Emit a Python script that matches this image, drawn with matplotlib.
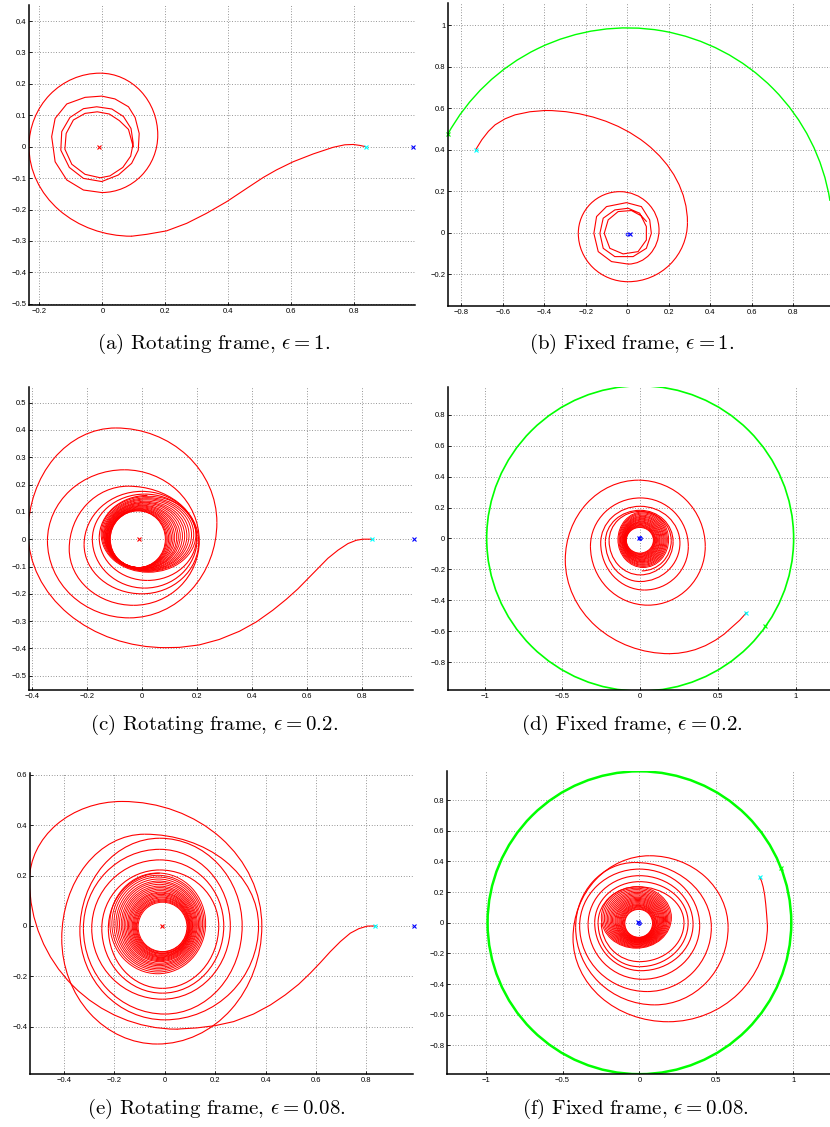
import matplotlib
matplotlib.use("Agg")
import matplotlib.pyplot as plt
from matplotlib.patches import Ellipse, Arc, Circle

plt.rcParams['mathtext.fontset'] = 'cm'

# ---------------- data ----------------
EARTH_X = -0.012
MOON_X = 0.988
L1_X = 0.836
MOON_R = 0.988

# Trajectories: a "tail" polyline, then the spiral turns
# given by their successive extreme points (B=bottom, L=left, T=top, R=right),
# then (optionally) a polygonal inner part and dense inner turns (cx, cy, rx, ry).

# (a) rotating frame, eps = 1
a_tail = [(0.836, 0.0), (0.818, 0.004), (0.797, 0.007), (0.770, 0.006), (0.733, -0.002),
          (0.670, -0.023), (0.606, -0.048), (0.553, -0.074), (0.511, -0.098), (0.458, -0.133),
          (0.395, -0.175), (0.331, -0.212), (0.268, -0.244), (0.204, -0.268), (0.141, -0.279),
          (0.093, -0.285)]
a_turns = [('B', 0.093, -0.285), ('L', -0.233, 0.0), ('T', -0.007, 0.234), ('R', 0.176, 0.037),
           ('B', -0.002, -0.146)]
a_inner = [(-0.002, -0.146), (-0.060, -0.138), (-0.113, -0.106), (-0.150, -0.048),
           (-0.161, 0.032), (-0.150, 0.090), (-0.113, 0.136), (-0.055, 0.157), (-0.002, 0.161),
           (0.040, 0.152), (0.083, 0.127), (0.104, 0.093), (0.117, 0.042), (0.114, -0.011),
           (0.093, -0.053), (0.051, -0.090), (-0.002, -0.111), (-0.060, -0.101), (-0.105, -0.066),
           (-0.132, -0.011), (-0.129, 0.048), (-0.103, 0.093), (-0.060, 0.121), (-0.018, 0.127),
           (0.030, 0.120), (0.067, 0.096), (0.091, 0.058), (0.098, 0.011), (0.090, -0.030),
           (0.065, -0.066), (0.024, -0.093), (-0.007, -0.099), (-0.055, -0.088), (-0.097, -0.056),
           (-0.119, -0.008), (-0.115, 0.042), (-0.092, 0.085), (-0.055, 0.106), (-0.016, 0.111),
           (0.022, 0.104), (0.054, 0.083), (0.083, 0.055), (0.098, 0.0)]

# (b) fixed frame, eps = 1
b_tail = [(-0.731, 0.402), (-0.702, 0.449), (-0.670, 0.490), (-0.638, 0.521), (-0.590, 0.550),
          (-0.542, 0.569), (-0.470, 0.584), (-0.398, 0.590)]
b_turns = [('T', -0.398, 0.590), ('R', 0.289, 0.050), ('B', 0.003, -0.235), ('L', -0.237, -0.002),
           ('T', -0.037, 0.199), ('R', 0.152, 0.014), ('B', 0.003, -0.150)]
b_inner = [(0.003, -0.150), (-0.077, -0.138), (-0.141, -0.090), (-0.162, -0.002), (-0.149, 0.079),
           (-0.101, 0.127), (-0.005, 0.146), (0.067, 0.127), (0.107, 0.063), (0.115, -0.002),
           (0.091, -0.074), (0.027, -0.114), (-0.061, -0.114), (-0.117, -0.074), (-0.133, -0.002),
           (-0.117, 0.071), (-0.061, 0.111), (0.003, 0.119), (0.059, 0.095), (0.091, 0.031),
           (0.091, -0.034), (0.051, -0.090), (-0.021, -0.101), (-0.085, -0.074), (-0.112, -0.002),
           (-0.093, 0.063), (-0.045, 0.103), (0.019, 0.108), (0.067, 0.082), (0.091, 0.056)]
b_moon_arc = (9.0, 151.5)          # degrees, start/end of the Moon's arc
b_start = (-0.731, 0.402)
b_moon_start = (-0.863, 0.476)

# (c) rotating frame, eps = 0.2
c_tail = [(0.833, 0.0), (0.802, 0.0), (0.778, -0.004), (0.748, -0.016), (0.712, -0.040),
          (0.675, -0.070), (0.639, -0.107), (0.602, -0.145), (0.566, -0.182), (0.524, -0.220),
          (0.475, -0.260), (0.415, -0.303), (0.354, -0.337), (0.281, -0.367), (0.208, -0.387),
          (0.136, -0.396), (0.087, -0.397)]
c_turns = [('B', 0.087, -0.397), ('L', -0.413, 0.024), ('T', -0.095, 0.407), ('R', 0.272, 0.061),
           ('B', -0.046, -0.288), ('L', -0.343, -0.006), ('T', -0.064, 0.254), ('R', 0.208, -0.006),
           ('B', -0.030, -0.242), ('L', -0.264, -0.036), ('T', -0.050, 0.194), ('R', 0.206, -0.010),
           ('B', 0.000, -0.200), ('L', -0.210, -0.020), ('T', 0.000, 0.175), ('R', 0.200, 0.000),
           ('B', 0.010, -0.179), ('L', -0.180, 0.000), ('T', 0.010, 0.165), ('R', 0.198, 0.005),
           ('B', 0.020, -0.151), ('L', -0.155, 0.005), ('T', 0.020, 0.160)]
c_dense = [(0.024, 0.018, 0.172, 0.139), (0.022, 0.017, 0.166, 0.135),
           (0.020, 0.016, 0.160, 0.132), (0.017, 0.015, 0.154, 0.129), (0.014, 0.013, 0.149, 0.126),
           (0.011, 0.012, 0.144, 0.123), (0.008, 0.011, 0.139, 0.121), (0.005, 0.010, 0.134, 0.118),
           (0.002, 0.008, 0.130, 0.116), (0.000, 0.007, 0.126, 0.114), (-0.003, 0.006, 0.122, 0.112),
           (-0.005, 0.005, 0.118, 0.110), (-0.007, 0.004, 0.114, 0.108), (-0.009, 0.003, 0.111, 0.107),
           (-0.011, 0.002, 0.108, 0.106), (-0.013, 0.001, 0.105, 0.105), (-0.014, 0.000, 0.102, 0.104),
           (-0.015, 0.000, 0.100, 0.104)]

# (d) fixed frame, eps = 0.2
d_tail = [(0.683, -0.482), (0.640, -0.530), (0.592, -0.573), (0.540, -0.620), (0.484, -0.659),
          (0.420, -0.694), (0.354, -0.720), (0.300, -0.734), (0.245, -0.743), (0.191, -0.746)]
d_turns = [('B', 0.191, -0.746), ('L', -0.482, -0.139), ('T', -0.011, 0.377), ('R', 0.419, -0.052),
           ('B', 0.050, -0.432), ('L', -0.320, -0.050), ('T', 0.002, 0.262), ('R', 0.310, -0.052),
           ('B', 0.028, -0.334), ('L', -0.254, -0.030), ('T', 0.000, 0.208), ('R', 0.256, -0.030),
           ('B', 0.000, -0.279), ('L', -0.224, -0.020), ('T', 0.000, 0.182), ('R', 0.212, -0.020),
           ('B', 0.000, -0.236), ('L', -0.200, -0.015), ('T', 0.000, 0.175), ('R', 0.200, -0.015),
           ('B', 0.010, -0.210)]
d_dense = [(0.020, -0.008, 0.163, 0.180), (0.019, -0.008, 0.156, 0.173), (0.018, -0.008, 0.150, 0.166),
           (0.017, -0.009, 0.144, 0.159), (0.016, -0.009, 0.138, 0.152), (0.015, -0.009, 0.133, 0.146),
           (0.013, -0.010, 0.128, 0.140), (0.012, -0.010, 0.123, 0.134), (0.010, -0.010, 0.118, 0.128),
           (0.009, -0.011, 0.114, 0.122), (0.007, -0.011, 0.110, 0.117), (0.005, -0.011, 0.106, 0.112),
           (0.004, -0.011, 0.102, 0.107), (0.002, -0.012, 0.098, 0.102), (0.001, -0.012, 0.095, 0.097),
           (0.000, -0.012, 0.092, 0.092), (-0.001, -0.012, 0.089, 0.087), (-0.002, -0.012, 0.087, 0.083)]
d_start = (0.683, -0.482)
d_moon_start = (0.805, -0.566)

# (e) rotating frame, eps = 0.08
e_tail = [(0.836, 0.0), (0.803, -0.001), (0.770, -0.011), (0.736, -0.029), (0.697, -0.062),
          (0.657, -0.102), (0.617, -0.146), (0.577, -0.188), (0.531, -0.232), (0.478, -0.274),
          (0.419, -0.314), (0.352, -0.350), (0.273, -0.380), (0.200, -0.396), (0.127, -0.405),
          (0.061, -0.409), (0.050, -0.410)]
e_turns = [('B', 0.050, -0.410), ('L', -0.537, 0.180), ('T', -0.170, 0.494), ('R', 0.385, 0.000),
           ('B', -0.030, -0.469), ('L', -0.409, -0.050), ('T', -0.080, 0.364), ('R', 0.372, 0.000),
           ('B', 0.000, -0.373), ('L', -0.337, -0.020), ('T', -0.020, 0.348), ('R', 0.307, 0.000),
           ('B', 0.000, -0.350), ('L', -0.323, -0.010), ('T', -0.020, 0.304), ('R', 0.260, 0.000),
           ('B', -0.010, -0.291), ('L', -0.290, -0.010), ('T', -0.020, 0.262), ('R', 0.234, 0.000),
           ('B', -0.010, -0.267), ('L', -0.250, -0.010), ('T', -0.020, 0.222), ('R', 0.214, 0.000),
           ('B', -0.010, -0.248), ('L', -0.224, -0.010), ('T', -0.020, 0.209)]
e_dense = [(-0.028, 0.010, 0.190, 0.200), (-0.027, 0.009, 0.183, 0.192), (-0.026, 0.009, 0.176, 0.185),
           (-0.025, 0.008, 0.169, 0.178), (-0.024, 0.007, 0.163, 0.171), (-0.023, 0.007, 0.157, 0.165),
           (-0.022, 0.006, 0.151, 0.159), (-0.021, 0.005, 0.146, 0.153), (-0.020, 0.005, 0.141, 0.147),
           (-0.019, 0.004, 0.136, 0.142), (-0.018, 0.003, 0.131, 0.137), (-0.017, 0.002, 0.127, 0.132),
           (-0.016, 0.002, 0.123, 0.128), (-0.015, 0.001, 0.119, 0.124), (-0.014, 0.000, 0.115, 0.120),
           (-0.013, -0.001, 0.112, 0.116), (-0.012, -0.001, 0.109, 0.112), (-0.011, -0.002, 0.106, 0.108),
           (-0.010, -0.003, 0.103, 0.105), (-0.010, -0.003, 0.100, 0.101), (-0.009, -0.004, 0.097, 0.098)]

# (f) fixed frame, eps = 0.08
f_tail = [(0.783, 0.299), (0.795, 0.270), (0.805, 0.234), (0.815, 0.180), (0.822, 0.120),
          (0.828, 0.050), (0.833, -0.020)]
f_turns = [('R', 0.833, -0.020), ('B', 0.187, -0.646), ('L', -0.432, -0.100), ('T', 0.067, 0.437),
           ('R', 0.577, -0.030), ('B', 0.100, -0.536), ('L', -0.415, -0.030), ('T', -0.030, 0.393),
           ('R', 0.468, -0.030), ('B', 0.050, -0.449), ('L', -0.389, -0.020), ('T', 0.000, 0.350),
           ('R', 0.392, -0.020), ('B', 0.020, -0.369), ('L', -0.334, -0.010), ('T', 0.000, 0.307),
           ('R', 0.349, -0.010), ('B', 0.010, -0.313), ('L', -0.291, 0.000), ('T', 0.000, 0.268),
           ('R', 0.317, 0.000), ('B', 0.000, -0.287), ('L', -0.269, 0.000), ('T', -0.010, 0.235),
           ('R', 0.290, 0.000), ('B', 0.000, -0.254), ('L', -0.248, 0.000)]
f_dense = [(-0.020, 0.034, 0.228, 0.200), (-0.019, 0.032, 0.219, 0.193), (-0.018, 0.030, 0.210, 0.186),
           (-0.017, 0.028, 0.201, 0.179), (-0.016, 0.026, 0.193, 0.172), (-0.015, 0.024, 0.185, 0.166),
           (-0.014, 0.022, 0.177, 0.160), (-0.013, 0.020, 0.170, 0.154), (-0.012, 0.018, 0.163, 0.148),
           (-0.011, 0.016, 0.156, 0.143), (-0.010, 0.014, 0.149, 0.138), (-0.010, 0.012, 0.143, 0.133),
           (-0.009, 0.010, 0.137, 0.128), (-0.009, 0.008, 0.131, 0.123), (-0.008, 0.006, 0.125, 0.118),
           (-0.008, 0.004, 0.119, 0.114), (-0.007, 0.003, 0.114, 0.110), (-0.007, 0.001, 0.109, 0.106),
           (-0.006, 0.000, 0.104, 0.102), (-0.006, -0.001, 0.099, 0.098), (-0.005, -0.003, 0.094, 0.094),
           (-0.005, -0.004, 0.090, 0.091)]
f_start = (0.783, 0.299)
f_moon_start = (0.924, 0.354)

# axis limits / ticks / captions
limits = {
    'a': ((-0.233, 0.993), (-0.504, 0.451)),
    'b': ((-0.865, 0.976), (-0.352, 1.108)),
    'c': ((-0.410, 0.984), (-0.552, 0.557)),
    'd': ((-1.237, 1.222), (-0.981, 0.980)),
    'e': ((-0.535, 0.985), (-0.588, 0.607)),
    'f': ((-1.252, 1.240), (-0.987, 0.990)),
}
xticks = {
    'a': [-0.2, 0, 0.2, 0.4, 0.6, 0.8],
    'b': [-0.8, -0.6, -0.4, -0.2, 0, 0.2, 0.4, 0.6, 0.8],
    'c': [-0.4, -0.2, 0, 0.2, 0.4, 0.6, 0.8],
    'd': [-1, -0.5, 0, 0.5, 1],
    'e': [-0.4, -0.2, 0, 0.2, 0.4, 0.6, 0.8],
    'f': [-1, -0.5, 0, 0.5, 1],
}
yticks = {
    'a': [-0.5, -0.4, -0.3, -0.2, -0.1, 0, 0.1, 0.2, 0.3, 0.4],
    'b': [-0.2, 0, 0.2, 0.4, 0.6, 0.8, 1],
    'c': [-0.5, -0.4, -0.3, -0.2, -0.1, 0, 0.1, 0.2, 0.3, 0.4, 0.5],
    'd': [-0.8, -0.6, -0.4, -0.2, 0, 0.2, 0.4, 0.6, 0.8],
    'e': [-0.4, -0.2, 0, 0.2, 0.4, 0.6],
    'f': [-0.8, -0.6, -0.4, -0.2, 0, 0.2, 0.4, 0.6, 0.8],
}
captions = {
    'a': r'(a) Rotating frame, $\epsilon = 1$.',
    'b': r'(b) Fixed frame, $\epsilon = 1$.',
    'c': r'(c) Rotating frame, $\epsilon = 0.2$.',
    'd': r'(d) Fixed frame, $\epsilon = 0.2$.',
    'e': r'(e) Rotating frame, $\epsilon = 0.08$.',
    'f': r'(f) Fixed frame, $\epsilon = 0.08$.',
}

# ---------------- layout (pixel boxes: left, top, right, bottom) ----------------
W, H = 830, 1127
boxes = {
    'a': (29, 5, 415, 305), 'b': (448, 3, 830, 306),
    'c': (29, 387, 413, 690), 'd': (448, 387, 830, 690),
    'e': (30, 773, 413, 1074), 'f': (447, 771, 830, 1074),
}
cap_pos = {'a': (214, 344), 'b': (632, 344), 'c': (214, 725), 'd': (632, 725),
           'e': (216, 1109), 'f': (635, 1109)}

fig = plt.figure(figsize=(W / 100, H / 100), dpi=100)
RED = '#ff0000'
GREEN = '#00ff00'


def fmt(v):
    return ('%g' % v).replace('-', '\u2212')


def make_ax(key):
    l, t, r, b = boxes[key]
    ax = fig.add_axes([l / W, 1 - b / H, (r - l) / W, (b - t) / H])
    (x0, x1), (y0, y1) = limits[key]
    ax.set_xlim(x0, x1)
    ax.set_ylim(y0, y1)
    ax.set_xticks(xticks[key])
    ax.set_yticks(yticks[key])
    ax.set_xticklabels([fmt(v) for v in xticks[key]], family='Liberation Sans', fontsize=5.5)
    ax.set_yticklabels([fmt(v) for v in yticks[key]], family='Liberation Sans', fontsize=5.5)
    ax.tick_params(direction='in', length=2.5, width=0.6, pad=2, colors='black')
    for s in ('top', 'right'):
        ax.spines[s].set_visible(False)
    for s in ('left', 'bottom'):
        ax.spines[s].set_linewidth(1.1)
    ax.grid(True, color='0.45', linestyle=(0, (1, 2.2)), linewidth=0.6)
    ax.set_axisbelow(True)
    fx, fy = cap_pos[key]
    fig.text(fx / W, 1 - fy / H, captions[key], ha='center', va='center',
             family='cmr10', fontsize=15)
    return ax


def plot_path(ax, pts, lw=0.8):
    ax.plot([p[0] for p in pts], [p[1] for p in pts], color=RED, lw=lw,
            solid_joinstyle='round')


QANG = {'T': 90, 'B': 270, 'L': 180, 'R': 0}


def plot_turns(ax, turns, lw=0.8):
    # each pair of successive extreme points is joined by a quarter of an ellipse
    for p, q in zip(turns[:-1], turns[1:]):
        v, h = (p, q) if p[0] in 'TB' else (q, p)
        cx, cy = v[1], h[2]
        rx, ry = abs(h[1] - v[1]), abs(v[2] - h[2])
        a1, a2 = sorted((QANG[v[0]], QANG[h[0]]))
        if (a1, a2) == (0, 270):
            a1, a2 = 270, 360
        ax.add_patch(Arc((cx, cy), 2 * rx, 2 * ry, theta1=a1, theta2=a2, color=RED, lw=lw))


def plot_rings(ax, rings, lw=0.7):
    for cx, cy, rx, ry in rings:
        ax.add_patch(Ellipse((cx, cy), 2 * rx, 2 * ry, fill=False, ec=RED, lw=lw))


def rot_markers(ax):
    ax.plot([EARTH_X], [0], 'x', color=RED, ms=3, mew=0.8)
    ax.plot([L1_X], [0], 'x', color='cyan', ms=3, mew=0.8)
    ax.plot([MOON_X], [0], 'x', color='blue', ms=3, mew=0.8, clip_on=False)


def fix_markers(ax, start, moon_start):
    ax.plot([-0.01], [0.004], 'x', color='blue', ms=3, mew=0.8)
    ax.plot([0.0], [0.0], 'o', color='blue', ms=2.5, mew=0.8, mfc='none')
    ax.plot([start[0]], [start[1]], 'x', color='cyan', ms=3, mew=0.8)
    ax.plot([moon_start[0]], [moon_start[1]], 'x', color=GREEN, ms=3, mew=0.8, clip_on=False)


# (a)
ax = make_ax('a')
plot_path(ax, a_tail)
plot_turns(ax, a_turns)
plot_path(ax, a_inner)
rot_markers(ax)

# (b)
ax = make_ax('b')
ax.add_patch(Arc((0, 0), 2 * MOON_R, 2 * MOON_R, theta1=b_moon_arc[0], theta2=b_moon_arc[1],
                 color=GREEN, lw=1.0))
plot_path(ax, b_tail)
plot_turns(ax, b_turns)
plot_path(ax, b_inner)
ax.plot([0.012], [-0.004], 'x', color='blue', ms=3, mew=0.8)
ax.plot([0.0], [-0.004], 'o', color='blue', ms=2, mew=0.6, mfc='none')
ax.plot([b_start[0]], [b_start[1]], 'x', color='cyan', ms=3, mew=0.8)
ax.plot([b_moon_start[0]], [b_moon_start[1]], 'x', color=GREEN, ms=3, mew=0.8, clip_on=False)

# (c)
ax = make_ax('c')
plot_path(ax, c_tail)
plot_turns(ax, c_turns)
plot_rings(ax, c_dense)
rot_markers(ax)

# (d)
ax = make_ax('d')
ax.add_patch(Circle((0, 0), MOON_R, fill=False, ec=GREEN, lw=1.2))
plot_path(ax, d_tail)
plot_turns(ax, d_turns)
plot_rings(ax, d_dense)
fix_markers(ax, d_start, d_moon_start)

# (e)
ax = make_ax('e')
plot_path(ax, e_tail)
plot_turns(ax, e_turns)
plot_rings(ax, e_dense)
rot_markers(ax)

# (f)
ax = make_ax('f')
ax.add_patch(Circle((0, 0), MOON_R, fill=False, ec=GREEN, lw=1.8))
plot_path(ax, f_tail)
plot_turns(ax, f_turns)
plot_rings(ax, f_dense)
fix_markers(ax, f_start, f_moon_start)

fig.savefig('out.png', dpi=100)
